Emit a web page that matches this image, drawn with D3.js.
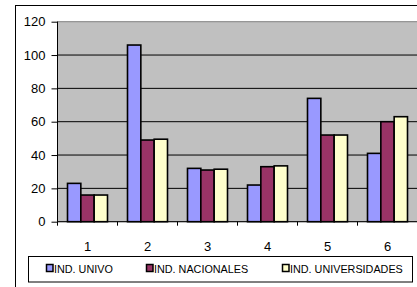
<!DOCTYPE html>
<html><head><meta charset="utf-8">
<script src="https://cdn.jsdelivr.net/npm/d3@7"></script>
<style>body{margin:0;background:#fff}svg{display:block;font-family:Arial,"Liberation Sans",sans-serif}</style>
</head><body><svg id="c" width="417" height="287"></svg>
<script>
const categories = ["1","2","3","4","5","6"];
const seriesNames = ["IND. UNIVO","IND. NACIONALES","IND. UNIVERSIDADES"];
const univo = [23, 106, 32, 22, 74, 41];
const nacionales = [16, 49, 31, 33, 52, 60];
const universidades = [16, 49.5, 31.5, 33.5, 52, 63];
const yTicks = [0,20,40,60,80,100,120];
const colors = ["#9999FF","#993366","#FFFFCC"];

const series = [univo, nacionales, universidades];
const svg = d3.select("#c");
const L = 57.5, R = 417.5, T = 21.7, B = 221.7;

// outer frame
svg.append("rect").attr("x",15.5).attr("y",5.5).attr("width",410).attr("height",290)
  .attr("fill","#fff").attr("stroke","#000").attr("stroke-width",1);

const x = d3.scaleBand().domain(categories).range([L,R]).paddingInner(1/3).paddingOuter(1/6);
const xs = d3.scaleBand().domain(d3.range(series.length)).range([0,x.bandwidth()]).padding(0);
const y = d3.scaleLinear().domain([0,120]).range([B,T]);

// plot area
svg.append("rect").attr("x",L).attr("y",T).attr("width",R-L).attr("height",B-T)
  .attr("fill","#C0C0C0").attr("stroke","#808080").attr("stroke-width",1);

// gridlines
svg.append("g").selectAll("line").data(yTicks.filter(v=>v>0 && v<120)).join("line")
  .attr("x1",L).attr("x2",R).attr("y1",d=>y(d)).attr("y2",d=>y(d))
  .attr("stroke","#000").attr("stroke-width",1);

// bars
const g = svg.append("g");
categories.forEach((c,i)=>{
  series.forEach((s,j)=>{
    g.append("rect")
      .attr("x", x(c)+xs(j)).attr("y", y(s[i]))
      .attr("width", xs.bandwidth()).attr("height", y(0)-y(s[i]))
      .attr("fill", colors[j]).attr("stroke","#000").attr("stroke-width",1.6);
  });
});

// y axis
const yAxis = d3.axisLeft(y).tickValues(yTicks).tickSize(6).tickPadding(6);
const ya = svg.append("g").attr("transform",`translate(${L},0)`).call(yAxis);
ya.select(".domain").attr("stroke","#000").attr("d",`M0,${T}V${B}`);
ya.selectAll("text").attr("font-size",13).attr("font-family","Arial, 'Liberation Sans', sans-serif").attr("fill","#000");
ya.selectAll("line").attr("stroke","#000");

// x axis with ticks at category boundaries
const xa = svg.append("g").attr("transform",`translate(0,${B})`);
xa.append("line").attr("x1",L).attr("x2",R).attr("stroke","#000");
const bounds = categories.map(c=>x(c)-x.step()*x.paddingOuter()).concat([R]);
xa.selectAll(".tk").data(bounds).join("line").attr("class","tk")
  .attr("x1",d=>d).attr("x2",d=>d).attr("y1",0).attr("y2",4).attr("stroke","#000");
xa.selectAll("text").data(categories).join("text")
  .attr("x",d=>x(d)+x.bandwidth()/2).attr("y",29)
  .attr("text-anchor","middle").attr("font-size",13).attr("fill","#000").text(d=>d);

// legend
const lg = svg.append("g");
lg.append("rect").attr("x",28.5).attr("y",256.5).attr("width",384).attr("height",25.5)
  .attr("fill","#fff").attr("stroke","#000");
const lx = [46, 146, 282];
seriesNames.forEach((n,j)=>{
  lg.append("rect").attr("x",lx[j]+0.5).attr("y",264.5).attr("width",6.5).attr("height",7)
    .attr("fill",colors[j]).attr("stroke","#000").attr("stroke-width",1.5);
  lg.append("text").attr("x",lx[j]+8).attr("y",272.5).attr("font-size",10.8).attr("fill","#000").text(n);
});
</script></body></html>
